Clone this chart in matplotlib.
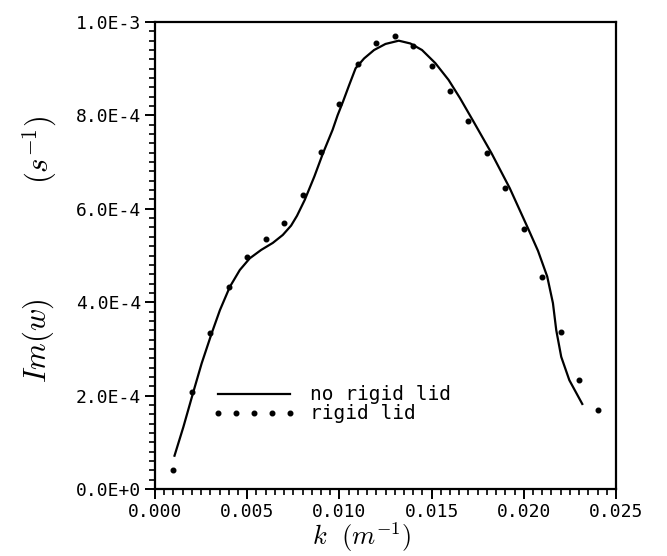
import matplotlib
matplotlib.use("Agg")
import matplotlib.pyplot as plt
from matplotlib.lines import Line2D
from matplotlib.ticker import MultipleLocator

# ---- data ----
k_dots = [0.001, 0.002, 0.003, 0.004, 0.005, 0.006, 0.007, 0.008, 0.009, 0.010,
          0.011, 0.012, 0.013, 0.014, 0.015, 0.016, 0.017, 0.018, 0.019, 0.020,
          0.021, 0.022, 0.023, 0.024]
im_dots = [0.040e-3, 0.208e-3, 0.335e-3, 0.433e-3, 0.496e-3, 0.535e-3, 0.570e-3,
           0.629e-3, 0.722e-3, 0.825e-3, 0.909e-3, 0.956e-3, 0.971e-3, 0.949e-3,
           0.906e-3, 0.852e-3, 0.789e-3, 0.720e-3, 0.644e-3, 0.556e-3, 0.455e-3,
           0.336e-3, 0.233e-3, 0.169e-3]

k_line = [0.00104, 0.00154, 0.00208, 0.00253, 0.00307, 0.00352, 0.00406, 0.00460,
          0.00514, 0.00576, 0.00639, 0.00693, 0.00738, 0.00770, 0.00812, 0.00864,
          0.00911, 0.00963, 0.00990, 0.01020, 0.01053, 0.01088, 0.01134, 0.01188,
          0.01250, 0.01322, 0.01385, 0.01448, 0.01520, 0.01592, 0.01654, 0.01727,
          0.01825, 0.01924, 0.02023, 0.02077, 0.02127, 0.02158, 0.02176, 0.02203,
          0.02247, 0.02320]
im_line = [0.069e-3, 0.133e-3, 0.208e-3, 0.269e-3, 0.333e-3, 0.383e-3, 0.433e-3,
           0.469e-3, 0.494e-3, 0.512e-3, 0.527e-3, 0.544e-3, 0.564e-3, 0.585e-3,
           0.619e-3, 0.669e-3, 0.719e-3, 0.769e-3, 0.800e-3, 0.830e-3, 0.865e-3,
           0.901e-3, 0.922e-3, 0.940e-3, 0.953e-3, 0.960e-3, 0.954e-3, 0.940e-3,
           0.912e-3, 0.876e-3, 0.837e-3, 0.787e-3, 0.719e-3, 0.644e-3, 0.558e-3,
           0.510e-3, 0.455e-3, 0.398e-3, 0.340e-3, 0.283e-3, 0.233e-3, 0.180e-3]

x_ticks = [0.000, 0.005, 0.010, 0.015, 0.020, 0.025]
x_ticklabels = ["0.000", "0.005", "0.010", "0.015", "0.020", "0.025"]
y_ticks = [0.0, 2.0e-4, 4.0e-4, 6.0e-4, 8.0e-4, 1.0e-3]
y_ticklabels = ["0.0E+0", "2.0E-4", "4.0E-4", "6.0E-4", "8.0E-4", "1.0E-3"]

series_labels = ["no rigid lid", "rigid lid"]

# ---- figure ----
plt.rcParams["mathtext.fontset"] = "cm"
mono = "DejaVu Sans Mono"

W, H = 667, 556
fig = plt.figure(figsize=(W / 100, H / 100), dpi=100)
ax = fig.add_axes([155 / W, 1 - 489 / H, (616 - 155) / W, (489 - 22) / H])

ax.plot(k_line, im_line, color="black", lw=1.6, solid_capstyle="butt",
        solid_joinstyle="round")
ax.plot(k_dots, im_dots, linestyle="none", marker="o", ms=3.3, color="black")

ax.set_xlim(0, 0.025)
ax.set_ylim(0, 1.0e-3)
ax.set_xticks(x_ticks)
ax.set_xticklabels(x_ticklabels, fontfamily=mono, fontsize=13)
ax.set_yticks(y_ticks)
ax.set_yticklabels(y_ticklabels, fontfamily=mono, fontsize=13)
ax.xaxis.set_minor_locator(MultipleLocator(0.0005))
ax.yaxis.set_minor_locator(MultipleLocator(0.2e-4))
ax.tick_params(which="major", direction="out", length=7, width=1.4, pad=3,
               top=False, right=False)
ax.tick_params(which="minor", direction="out", length=4, width=1.2,
               top=False, right=False)
for s in ax.spines.values():
    s.set_linewidth(1.6)

# axis labels (y label drawn in two parts, as in the reference)
fig.text(38 / W, 1 - 341 / H, r"$Im(w)$", rotation=90,
         ha="center", va="center", fontsize=22)
fig.text(40 / W, 1 - 150 / H, r"$(s^{-1})$", rotation=90,
         ha="center", va="center", fontsize=22)
fig.text(362 / W, 1 - 537.5 / H, r"$k\ \ (m^{-1})$", ha="center", va="center",
         fontsize=19)

# legend
h1 = Line2D([], [], color="black", lw=1.6)
h2 = Line2D([], [], color="black", linestyle="none", marker="o", ms=3.3)
leg = ax.legend([h1, h2], series_labels, loc="upper left",
                bbox_to_anchor=(0.125, 0.222), frameon=False, numpoints=5,
                prop={"family": mono, "size": 14}, handlelength=4.3,
                handletextpad=0.7, labelspacing=0.0, borderpad=0,
                borderaxespad=0)

fig.savefig("out.png", dpi=100)
